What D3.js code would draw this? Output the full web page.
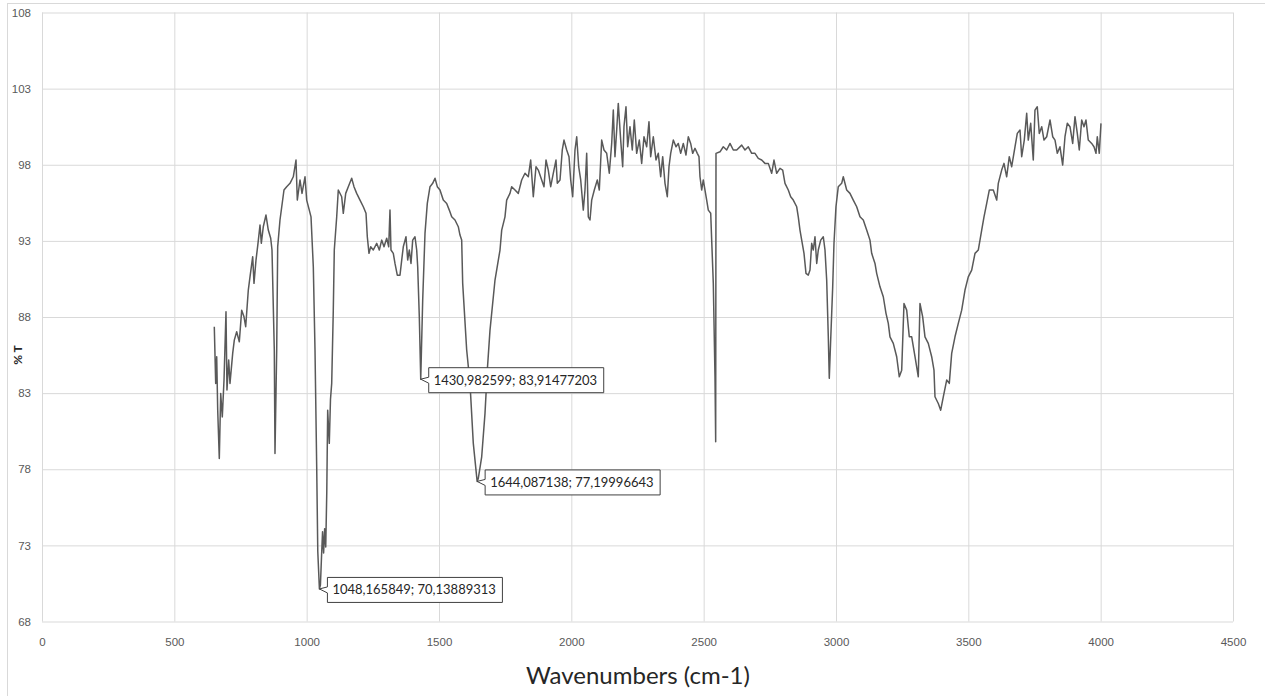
<!DOCTYPE html>
<html>
<head>
<meta charset="utf-8">
<script src="https://cdn.jsdelivr.net/npm/d3@7"></script>
<style>
  body { margin: 0; background: #fff; }
  svg { display: block; font-family: Lato, "Liberation Sans", sans-serif; }
</style>
</head>
<body>
<svg id="chart" width="1265" height="696"></svg>
<script>
// IR spectrum
const wn = [651, 656.3, 660.1, 663.9, 669.9, 675.2, 681.2, 687.7, 695.2, 698.9, 705.4, 710.3, 720.5, 726.6, 735.6, 745.5,
  754.5, 763.2, 769.6, 779.5, 785.9, 796.1, 801.0, 808.6, 816.1, 823.7, 828.6, 836.1, 846.3, 855.0, 864.1, 869.0,
  877.7, 880.3, 886.8, 890.5, 899.2, 914.3, 924.5, 937.0, 949.5, 959.7, 964.6, 974.8, 982.4, 993.7, 1000.1, 1009.9,
  1016.4, 1025.1, 1031.5, 1037.9, 1042, 1048.17, 1052, 1056, 1060, 1064, 1068, 1072, 1076, 1079.4, 1085.5, 1090,
  1094.6, 1100.6, 1104.4, 1113.5, 1119.5, 1132.3, 1138.4, 1147.5, 1157.3, 1170.1, 1178.8, 1189.0, 1201.5, 1214.0,
  1224.2, 1229.1, 1235.5, 1241.9, 1251.7, 1264.6, 1274.4, 1283.5, 1292.2, 1302.4, 1310.0, 1314.8, 1318.6, 1327.3,
  1333.7, 1342.4, 1352.6, 1359.1, 1365.1, 1375.3, 1381.7, 1387.8, 1394.2, 1400.6, 1409.3, 1415.7, 1419.5, 1425.6,
  1430.98, 1438.4, 1447.1, 1455.8, 1466.0, 1476.2, 1484.9, 1493.6, 1503.7, 1516.2, 1529.1, 1538.9, 1548.0, 1560.4,
  1572.9, 1579.3, 1585.7, 1589.5, 1604.6, 1617.1, 1629.6, 1642.4, 1644.09, 1648.5, 1661.3, 1673.8, 1682.5, 1692.7,
  1711.6, 1730.5, 1736.9, 1749.3, 1755.7, 1768.2, 1774.6, 1787.1, 1799.6, 1812.4, 1824.9, 1837.4, 1846.4, 1856.3,
  1866.5, 1875.2, 1888.0, 1896.7, 1904.3, 1912.9, 1922.0, 1931.8, 1942.0, 1947.0, 1957.2, 1965.8, 1972.3, 1982.5,
  1991.2, 1997.6, 2005.1, 2013.8, 2020.3, 2027.8, 2035.4, 2045.2, 2051.6, 2058.0, 2064.1, 2070.5, 2076.9, 2086.8,
  2098.1, 2105.7, 2114.7, 2123.4, 2133.6, 2143.4, 2152.5, 2158.6, 2164.9, 2171.4, 2177.4, 2186.5, 2194.0, 2198.9,
  2206.5, 2212.9, 2221.6, 2230.3, 2237.9, 2246.9, 2256.8, 2265.8, 2274.5, 2284.7, 2293.4, 2299.8, 2309.7, 2319.9,
  2328.6, 2337.6, 2345.2, 2353.9, 2362.6, 2369.0, 2375.4, 2385.3, 2395.4, 2404.1, 2413.2, 2423.0, 2433.2, 2441.9,
  2450.9, 2458.5, 2467.2, 2475.9, 2482.3, 2486.1, 2492.5, 2498.6, 2505.0, 2511.4, 2517.5, 2526.6, 2530.3, 2536.4,
  2542.8, 2545.4, 2546.6, 2561.7, 2574.2, 2587.0, 2599.5, 2612.0, 2624.8, 2643.7, 2656.2, 2668.6, 2681.5, 2693.9,
  2706.4, 2719.2, 2731.7, 2744.2, 2757.0, 2765.7, 2775.9, 2788.4, 2798.6, 2807.3, 2819.7, 2828.8, 2838.6, 2851.5,
  2857.5, 2863.9, 2870.4, 2879.1, 2886.6, 2895.3, 2901.7, 2908.2, 2914.2, 2920.6, 2927.1, 2933.1, 2942.2, 2952.0,
  2958.4, 2964.8, 2970.9, 2974.6, 2979.9, 2987.5, 2992.4, 2999.9, 3008.6, 3021.5, 3027.5, 3040.4, 3052.8, 3065.3,
  3078.2, 3090.6, 3103.1, 3115.9, 3128.4, 3134.8, 3147.3, 3153.7, 3166.2, 3178.7, 3188.9, 3197.6, 3204.0, 3216.5,
  3229.3, 3239.1, 3248.2, 3256.9, 3267.1, 3276.9, 3286.0, 3298.5, 3310.9, 3317.3, 3327.5, 3336.2, 3348.7, 3361.5,
  3370.2, 3374.0, 3386.5, 3395.6, 3405.4, 3418.2, 3428.1, 3437.1, 3449.6, 3462.1, 3474.9, 3487.4, 3499.8, 3512.7,
  3525.2, 3537.6, 3550.5, 3559.2, 3569.4, 3579.2, 3594.3, 3607.2, 3613.2, 3626.0, 3634.7, 3644.9, 3654.7, 3663.8,
  3676.3, 3685.0, 3695.2, 3701.6, 3711.4, 3720.5, 3726.5, 3735.6, 3745.4, 3751.8, 3760.5, 3768.1, 3777.2, 3785.9,
  3796.1, 3808.6, 3818.8, 3827.5, 3836.2, 3846.3, 3856.5, 3865.2, 3873.9, 3884.1, 3894.3, 3903.0, 3911.7, 3919.2,
  3928.3, 3937.0, 3944.5, 3953.2, 3966.0, 3974.7, 3982.3, 3987.2, 3994.7, 4001.2];

const pT = [87.36, 83.64, 85.39, 81.88, 78.71, 82.98, 81.44, 83.86, 88.34, 83.2, 85.17, 83.64, 85.61, 86.48, 87.03, 86.37,
  88.45, 88.01, 87.36, 89.77, 90.64, 91.96, 90.21, 91.74, 92.84, 94.04, 92.84, 93.93, 94.7, 93.71, 93.17, 92.4,
  85.83, 79.04, 85.83, 92.61, 94.37, 96.34, 96.56, 96.78, 97.21, 98.31, 95.68, 97.0, 96.12, 97.21, 95.68, 95.02,
  94.58, 91.3, 85.83, 78.16, 72.6, 70.14, 70.4, 72.2, 73.9, 72.5, 74.1, 72.9, 76.5, 81.88, 79.7, 82.6,
  83.64, 88.45, 92.4, 94.58, 96.34, 95.9, 94.81, 96.12, 96.56, 97.11, 96.56, 96.12, 95.68, 95.24,
  94.81, 93.27, 92.18, 92.61, 92.4, 92.84, 92.4, 93.05, 92.61, 93.17, 92.61, 95.02, 92.4, 92.18,
  91.52, 90.75, 90.75, 91.74, 92.61, 93.27, 91.74, 92.4, 91.52, 93.05, 93.27, 92.4, 91.3, 88.01,
  83.91, 89.11, 93.49, 95.46, 96.56, 96.78, 97.11, 96.56, 96.34, 95.68, 95.46, 95.02, 94.58, 94.37,
  93.93, 93.38, 93.05, 90.21, 85.83, 83.64, 79.7, 77.5, 77.2, 77.4, 78.82, 81.67, 84.51, 87.14,
  90.43, 92.4, 93.71, 94.58, 95.68, 96.12, 96.56, 96.34, 96.12, 97.0, 97.44, 97.21, 98.31, 95.9,
  97.87, 97.65, 97.0, 96.56, 98.31, 97.65, 96.56, 97.44, 98.31, 96.78, 97.0, 98.97, 99.62, 98.97,
  98.53, 97.0, 95.9, 98.97, 99.84, 97.87, 97.0, 95.02, 96.34, 98.75, 94.58, 94.37, 95.68, 96.34,
  97.0, 96.34, 99.62, 98.97, 98.75, 97.44, 99.4, 101.59, 98.53, 100.28, 102.03, 99.62, 97.87, 100.5,
  101.81, 99.18, 100.5, 98.97, 100.94, 98.75, 99.62, 98.09, 99.84, 99.18, 100.83, 98.53, 99.84, 98.31,
  98.75, 97.21, 98.53, 96.78, 95.9, 97.87, 98.75, 99.62, 99.18, 99.4, 98.75, 99.4, 98.64, 99.84,
  99.4, 98.75, 99.08, 98.75, 98.53, 97.21, 96.34, 97.0, 96.34, 95.68, 95.02, 94.81, 93.05, 90.21,
  84.07, 79.8, 98.75, 98.85, 99.18, 98.97, 99.4, 98.97, 98.97, 99.29, 98.97, 99.18, 98.75, 98.75,
  98.42, 98.31, 98.09, 98.09, 97.44, 98.31, 97.44, 97.76, 97.65, 96.78, 96.34, 95.9, 95.68, 95.24,
  94.58, 93.71, 93.05, 92.18, 90.87, 90.75, 91.08, 92.84, 92.4, 93.27, 91.52, 92.4, 93.05, 93.27,
  92.4, 90.43, 86.7, 83.97, 86.49, 89.98, 92.84, 95.24, 96.56, 96.78, 97.21, 96.34, 96.12, 95.68,
  95.24, 94.58, 94.37, 93.71, 93.05, 92.18, 91.52, 90.87, 89.98, 89.33, 88.24, 87.58, 86.7, 86.27,
  85.39, 84.07, 84.51, 88.89, 88.45, 86.7, 86.7, 85.39, 84.07, 88.89, 88.01, 86.7, 86.27, 85.39,
  84.51, 82.76, 82.32, 81.88, 82.76, 83.86, 83.64, 85.61, 86.7, 87.58, 88.45, 89.77, 90.64, 91.08,
  92.18, 92.4, 93.71, 94.58, 95.46, 96.34, 96.34, 95.68, 96.78, 97.65, 98.09, 97.21, 98.53, 97.87,
  99.18, 100.06, 100.28, 98.53, 99.62, 101.38, 99.62, 100.72, 98.31, 101.59, 101.81, 100.06, 100.5, 99.62,
  99.84, 100.94, 99.84, 99.62, 98.75, 99.18, 97.98, 99.84, 100.72, 100.5, 99.4, 101.16, 100.06, 98.97,
  100.94, 100.5, 100.94, 99.62, 99.4, 99.18, 98.75, 99.84, 98.75, 100.72];

// labelled minima
const peakX = [1048.165849, 1430.982599, 1644.087138];
const peakY = [70.13889313, 83.91477203, 77.19996643];
const peakLabels = ["1048,165849; 70,13889313", "1430,982599; 83,91477203", "1644,087138; 77,19996643"];

const xTicks = [0, 500, 1000, 1500, 2000, 2500, 3000, 3500, 4000, 4500];
const yTicks = [68, 73, 78, 83, 88, 93, 98, 103, 108];

let svg = d3.select("#chart");

// chart frame
svg.append("rect")
    .attr("x", 7.5).attr("y", 3.5)
    .attr("width", 1400).attr("height", 800)
    .attr("fill", "none")
    .attr("stroke", "#d9d9d9");

let plotL = 42, plotR = 1233, plotT = 12.5, plotB = 621.5;

let x = d3.scaleLinear().domain([0, 4500]).range([plotL, plotR]);
let y = d3.scaleLinear().domain([68, 108]).range([plotB, plotT]);

let gx = svg.append("g")
    .attr("transform", "translate(0," + plotB + ")")
    .call(d3.axisBottom(x).tickValues(xTicks).tickSize(-(plotB - plotT)).tickPadding(16).tickFormat(d3.format("d")));
let gy = svg.append("g")
    .attr("transform", "translate(" + plotL + ",0)")
    .call(d3.axisLeft(y).tickValues(yTicks).tickSize(-(plotR - plotL)).tickPadding(11).tickFormat(d3.format("d")));

for (let g of [gx, gy]) {
    g.select(".domain").remove();
    g.selectAll(".tick line").attr("stroke", "#d9d9d9");
    g.selectAll(".tick text")
        .attr("fill", "#595959")
        .style("font-size", "11.5px");
}

// spectrum
let pts = wn.map((d, i) => [d, pT[i]]);
let line = d3.line().x(d => x(d[0])).y(d => y(d[1]));
svg.append("path")
    .datum(pts)
    .attr("d", line)
    .attr("fill", "none")
    .attr("stroke", "#595959")
    .attr("stroke-width", 1.5)
    .attr("stroke-linejoin", "round");

// callouts
peakX.forEach((v, i) => {
    let px = x(v), py = y(peakY[i]);
    let bx = px + 8, bw = 175, bh = 25, by = py - bh / 2 + 1;
    svg.append("path")
        .attr("d", "M" + bx + "," + by + "H" + (bx + bw) + "V" + (by + bh) + "H" + bx +
            "V" + (py + 4) + "L" + px + "," + py + "L" + bx + "," + (py - 2) + "Z")
        .attr("fill", "white")
        .attr("stroke", "#404040")
        .attr("stroke-width", 1);
    svg.append("text")
        .attr("x", bx + 5)
        .attr("y", by + bh / 2)
        .attr("dy", "0.35em")
        .attr("fill", "#262626")
        .style("font-size", "13px")
        .text(peakLabels[i]);
});

// axis titles
svg.append("text")
    .attr("transform", "translate(22,355) rotate(-90)")
    .attr("text-anchor", "middle")
    .attr("fill", "#262626")
    .style("font-size", "12px")
    .style("font-weight", "bold")
    .text("% T");

svg.append("text")
    .attr("x", 638)
    .attr("y", 684)
    .attr("text-anchor", "middle")
    .attr("fill", "#262626")
    .style("font-size", "24px")
    .text("Wavenumbers (cm-1)");
</script>
</body>
</html>
